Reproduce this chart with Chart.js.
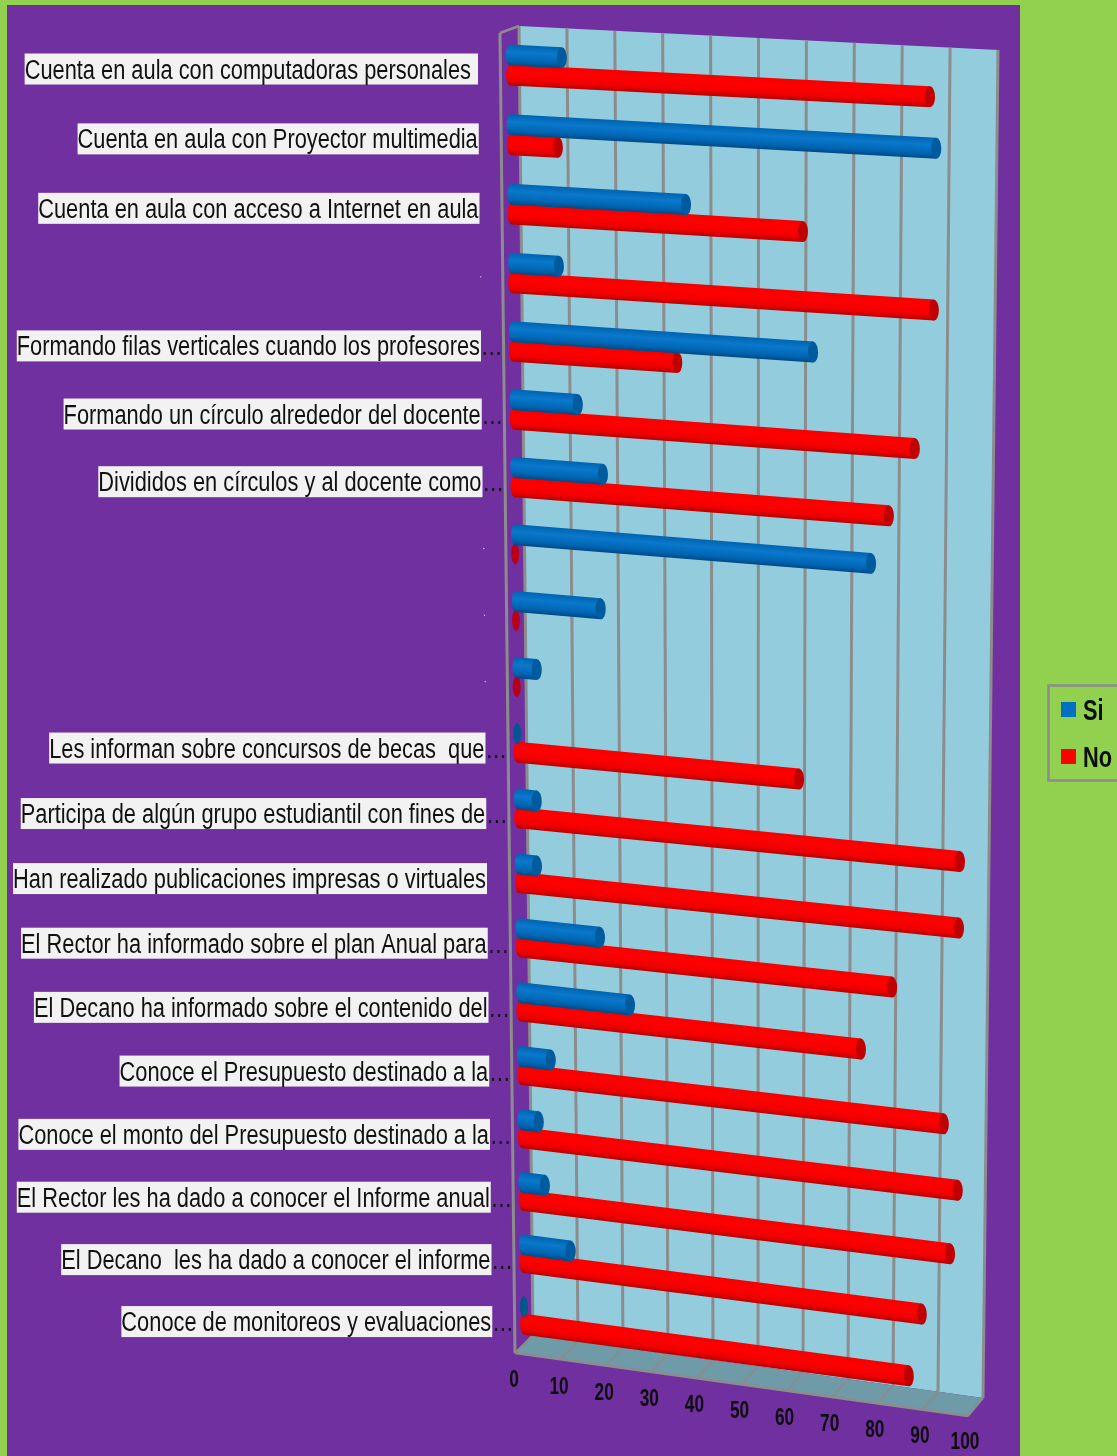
<!DOCTYPE html>
<html lang="es">
<head>
<meta charset="utf-8">
<title>Si / No</title>
<script src="https://cdn.jsdelivr.net/npm/chart.js@4"></script>
<style>
  html, body { margin: 0; padding: 0; background: #92d050; }
  canvas { display: block; }
</style>
</head>
<body>
<canvas id="chart" width="1117" height="1456"></canvas>
<script>
const categories = [
  "Cuenta en aula con computadoras personales ",
  "Cuenta en aula con Proyector multimedia",
  "Cuenta en aula con acceso a Internet en aula",
  "",
  "Formando filas verticales cuando los profesores…",
  "Formando un círculo alrededor del docente…",
  "Divididos en círculos y al docente como…",
  "",
  "",
  "",
  "Les informan sobre concursos de becas  que…",
  "Participa de algún grupo estudiantil con fines de…",
  "Han realizado publicaciones impresas o virtuales",
  "El Rector ha informado sobre el plan Anual para…",
  "El Decano ha informado sobre el contenido del…",
  "Conoce el Presupuesto destinado a la…",
  "Conoce el monto del Presupuesto destinado a la…",
  "El Rector les ha dado a conocer el Informe anual…",
  "El Decano  les ha dado a conocer el informe…",
  "Conoce de monitoreos y evaluaciones…",
];
const siValues = [11, 90.4, 37.2, 10, 64.3, 13.8, 19.1, 76.9, 18.4, 4.4, 0, 4.1, 4, 17.7, 24.2, 6.6, 3.8, 5, 10.6, 0];
const noValues = [89, 10, 62.1, 90.1, 35.2, 86.2, 80.7, 0, 0, 0, 61.4, 96.6, 96.5, 81.9, 75.1, 93.5, 96.7, 95.1, 88.9, 86.1];
const xTicks = [0, 10, 20, 30, 40, 50, 60, 70, 80, 90, 100];

const COLORS = {
  page: "#92d050",
  panel: "#7030a0",
  wall: "#93cddd",
  floor: "#6f9aa8",
  line: "#8c8c8c",
  si: ["#0063b0", "#0a78cc", "#0066b4", "#004a85"],
  siCap: "#005a9e",
  siFlat: "#00568f",
  no: ["#f50000", "#ff0000", "#f00000", "#b80000"],
  noCap: "#c00000",
  noFlat: "#b8001a",
};
const NARROW = 0.808;

// the original is a tilted 3D chart, so scale pixels get bent onto it here
function rowY(f) { return 65 + 70 * f - 0.22 * f * f; }
function barLeft(f) { return 510 + 14 * f / 19; }
function barUnit(f) { return 4.72 - 0.25 * f / 19; }
function barSlope(f) { return 0.051 + 0.082 * f / 19; }
function wallTop(u) { return [519 + 479 * u, 26 + 24 * u]; }
function wallBottom(u) { return [533 + 450 * u, 1335 + 63 * u]; }
function floorFront(u) { return [515 + 453 * u, 1353 + 63 * u]; }

function poly(ctx, pts, fill) {
  ctx.beginPath();
  pts.forEach((p, i) => (i ? ctx.lineTo(p[0], p[1]) : ctx.moveTo(p[0], p[1])));
  ctx.closePath();
  ctx.fillStyle = fill;
  ctx.fill();
}

function seg(ctx, a, b, width) {
  ctx.beginPath();
  ctx.moveTo(a[0], a[1]);
  ctx.lineTo(b[0], b[1]);
  ctx.strokeStyle = COLORS.line;
  ctx.lineWidth = width;
  ctx.stroke();
}

function drawBox(chart) {
  const { ctx } = chart;
  const x = chart.scales.x;
  const uOf = (v) => (x.getPixelForValue(v) - x.left) / x.width;

  poly(ctx, [wallTop(0), wallTop(1), wallBottom(1), wallBottom(0)], COLORS.wall);
  poly(ctx, [wallBottom(0), wallBottom(1), floorFront(1), floorFront(0)], COLORS.floor);

  xTicks.forEach((tick) => {
    const u = uOf(tick);
    seg(ctx, wallTop(u), wallBottom(u), 3);
    seg(ctx, wallBottom(u), floorFront(u), 2);
  });
  seg(ctx, [500, 33], wallTop(0), 2.5);
  seg(ctx, [500, 33], floorFront(0), 3);
  seg(ctx, floorFront(0), floorFront(1), 2.5);
}

function drawCylinder(ctx, f, len, thick, shades, capColor, flatColor) {
  const lx = barLeft(f);
  const ly = rowY(f);
  ctx.save();
  ctx.transform(1, barSlope(f), 0, 1, lx, ly);
  if (len < 0.5) {
    ctx.beginPath();
    ctx.ellipse(0, 0, 4, thick / 2, 0, 0, Math.PI * 2);
    ctx.fillStyle = flatColor;
    ctx.fill();
    ctx.restore();
    return;
  }
  const grad = ctx.createLinearGradient(0, -thick / 2, 0, thick / 2);
  grad.addColorStop(0, shades[0]);
  grad.addColorStop(0.35, shades[1]);
  grad.addColorStop(0.75, shades[2]);
  grad.addColorStop(1, shades[3]);
  ctx.beginPath();
  ctx.ellipse(0, 0, 4, thick / 2, 0, Math.PI / 2, Math.PI * 1.5);
  ctx.lineTo(len, -thick / 2);
  ctx.lineTo(len, thick / 2);
  ctx.closePath();
  ctx.fillStyle = grad;
  ctx.fill();
  ctx.beginPath();
  ctx.ellipse(len, 0, 5, thick / 2, 0, 0, Math.PI * 2);
  ctx.fillStyle = capColor;
  ctx.fill();
  ctx.restore();
}

function drawBars(chart) {
  const { ctx } = chart;
  const x = chart.scales.x;
  const y = chart.scales.y;
  const rowH = y.height / categories.length;
  const si = chart.getDatasetMeta(0).data;
  const no = chart.getDatasetMeta(1).data;

  categories.forEach((_, i) => {
    [[no[i], COLORS.no, COLORS.noCap, COLORS.noFlat], [si[i], COLORS.si, COLORS.siCap, COLORS.siFlat]].forEach(([el, shades, cap, flat]) => {
      const f = (el.y - y.top) / rowH - 0.5;
      const len = ((el.x - el.base) / x.width) * 100 * barUnit(f);
      drawCylinder(ctx, f, len, el.height + 1.5, shades, cap, flat);
    });
  });
}

function drawCategoryLabels(chart) {
  const { ctx } = chart;
  const y = chart.scales.y;
  const rowH = y.height / categories.length;

  categories.forEach((label, i) => {
    const f = (y.getPixelForValue(i) - y.top) / rowH - 0.5;
    const right = 478 + 0.75 * f;
    const mid = rowY(f) + 4 + (f * 2) / 19;
    if (!label) {
      ctx.fillStyle = "#ffffff";
      ctx.fillRect(right, mid - 1, 1, 1);
      return;
    }
    const cut = label.endsWith("…");
    const text = cut ? label.slice(0, -1) : label;
    ctx.save();
    ctx.font = '27px "Liberation Sans"';
    ctx.textBaseline = "alphabetic";
    const width = ctx.measureText(text).width * NARROW;
    ctx.fillStyle = "#f2f2f2";
    ctx.fillRect(right - width - 1, mid - 15.5, width + 1, 31);
    ctx.translate(right - width - 1, mid + 9.5);
    ctx.scale(NARROW, 1);
    ctx.fillStyle = "#111111";
    ctx.fillText(text, 0, 0);
    if (cut) ctx.fillText("…", width / NARROW + 1, 0);
    ctx.restore();
  });
}

function drawXLabels(chart) {
  const { ctx } = chart;
  const x = chart.scales.x;
  xTicks.forEach((tick) => {
    const u = (x.getPixelForValue(tick) - x.left) / x.width;
    ctx.save();
    ctx.translate(514 + 451 * u, 1381 + 62 * u);
    ctx.scale(0.75, 1);
    ctx.font = 'bold 23px "Liberation Sans"';
    ctx.textAlign = "center";
    ctx.textBaseline = "middle";
    ctx.fillStyle = "#0d0d0d";
    ctx.fillText(String(tick), 0, 0);
    ctx.restore();
  });
}

function drawLegend(chart) {
  const { ctx } = chart;
  ctx.strokeStyle = COLORS.line;
  ctx.lineWidth = 2.5;
  ctx.strokeRect(1048.5, 685.5, 90, 95);
  chart.data.datasets.forEach((ds, i) => {
    const top = 702 + i * 47;
    ctx.fillStyle = ds.backgroundColor;
    ctx.fillRect(1061, top, 15, 15);
    ctx.save();
    ctx.translate(1083, top + 18);
    ctx.scale(0.75, 1);
    ctx.font = 'bold 29px "Liberation Sans"';
    ctx.fillStyle = "#0d0d0d";
    ctx.fillText(ds.label, 0, 0);
    ctx.restore();
  });
}

const tiltedChart = {
  id: "tiltedChart",
  beforeDraw(chart) {
    const { ctx } = chart;
    ctx.fillStyle = COLORS.page;
    ctx.fillRect(0, 0, chart.width, chart.height);
    ctx.fillStyle = COLORS.panel;
    ctx.fillRect(7, 5, 1013, chart.height - 5);
  },
  beforeDatasetsDraw(chart) {
    drawBox(chart);
    drawBars(chart);
  },
  beforeDatasetDraw() {
    return false;
  },
  afterDraw(chart) {
    drawCategoryLabels(chart);
    drawXLabels(chart);
    drawLegend(chart);
  },
};

new Chart(document.getElementById("chart"), {
  type: "bar",
  data: {
    labels: categories,
    datasets: [
      { label: "Si", data: siValues, backgroundColor: "#0070c0", categoryPercentage: 0.57, barPercentage: 1 },
      { label: "No", data: noValues, backgroundColor: "#ff0000", categoryPercentage: 0.57, barPercentage: 1 },
    ],
  },
  options: {
    indexAxis: "y",
    responsive: false,
    animation: false,
    layout: { padding: { left: 510, top: 27, right: 135, bottom: 61 } },
    plugins: { legend: { display: false }, tooltip: { enabled: false } },
    scales: {
      x: { display: false, min: 0, max: 100, ticks: { stepSize: 10 } },
      y: { display: false },
    },
  },
  plugins: [tiltedChart],
});
</script>
</body>
</html>
